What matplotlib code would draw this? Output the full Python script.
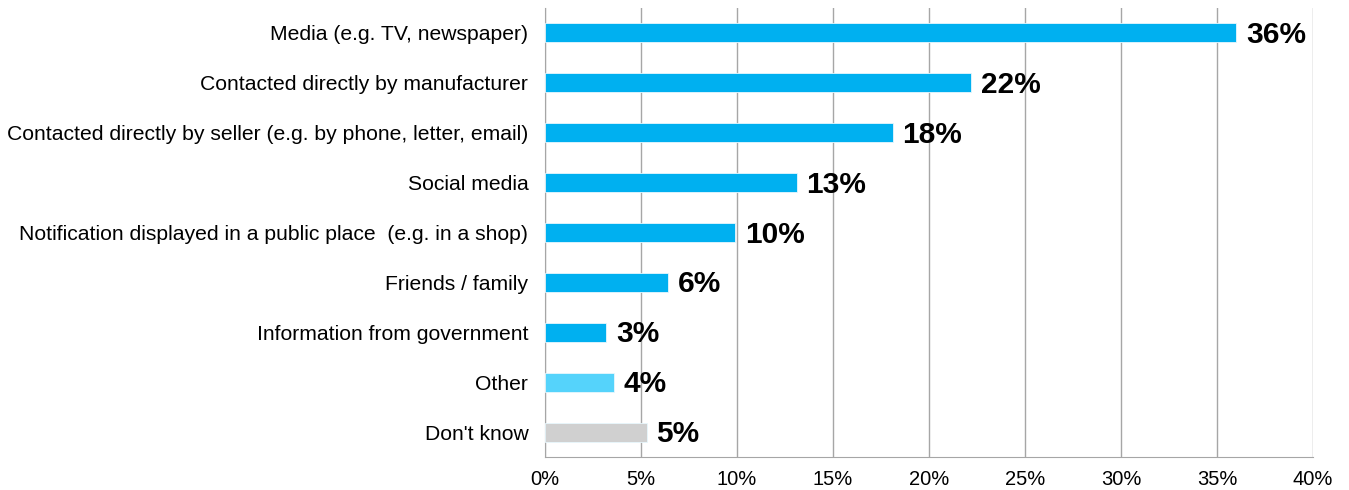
import matplotlib
matplotlib.use("Agg")
import matplotlib.pyplot as plt
from matplotlib.ticker import MultipleLocator, FuncFormatter

plt.rcParams['font.family'] = ['Liberation Sans', 'DejaVu Sans']

sources = ["Media (e.g. TV, newspaper)",
           "Contacted directly by manufacturer",
           "Contacted directly by seller (e.g. by phone, letter, email)",
           "Social media",
           "Notification displayed in a public place  (e.g. in a shop)",
           "Friends / family",
           "Information from government",
           "Other",
           "Don't know"]
shares = [36.0, 22.2, 18.1, 13.1, 9.9, 6.4, 3.2, 3.6, 5.3]
bar_colors = ["#00B0F0"] * 7 + ["#55D3FB", "#D0D0D0"]

fig = plt.figure(figsize=(13.49, 4.9), dpi=100)
ax = fig.add_axes([0.404, 0.0673, 0.5693, 0.9164])

pos = list(range(len(sources)))
ax.barh(pos, shares, height=0.38, color=bar_colors,
        edgecolor="#E8F7FD", linewidth=0.6, zorder=3)

for y, v in zip(pos, shares):
    ax.text(v + 0.5, y + 0.04, f"{round(v)}%", va="center", ha="left",
            fontsize=21.5, fontweight="bold", color="black")

ax.set_xlim(0, 40)
ax.set_ylim(len(sources) - 0.5, -0.5)
ax.xaxis.set_major_locator(MultipleLocator(5))
ax.xaxis.set_major_formatter(FuncFormatter(lambda x, _: f"{x:.0f}%"))
ax.set_yticks(pos)
ax.set_yticklabels(sources, fontsize=15.2)

ax.grid(axis="x", color="#A6A6A6", linewidth=1, zorder=0)
for side in ["top", "right"]:
    ax.spines[side].set_visible(False)
for side in ["left", "bottom"]:
    ax.spines[side].set_color("#A6A6A6")
ax.tick_params(axis="both", length=0, colors="black")
ax.tick_params(axis="x", pad=9, labelsize=14.5)
ax.tick_params(axis="y", pad=12)

fig.savefig("out.png", dpi=100)
